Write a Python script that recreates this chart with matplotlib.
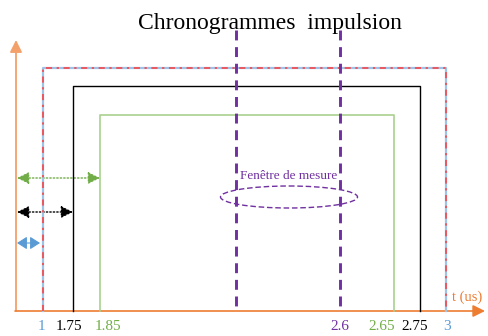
import matplotlib
matplotlib.use("Agg")
import matplotlib.pyplot as plt
from matplotlib.patches import Ellipse, FancyArrowPatch

plt.rcParams['font.family'] = ['Liberation Serif', 'DejaVu Serif']

# schematic (non-linear) time axis: drawing position of each labelled instant
tick_labels = ['1', '1.75', '1.85', '2.6', '2.65', '2.75', '3']
tick_pos = [43, 73, 100, 340, 394, 420, 446]
tick_label_x = [41, 69, 108, 340, 382, 415, 447]
tick_colors = ['#5B9BD5', 'black', '#70AD47', '#7030A0', '#70AD47', 'black', '#5B9BD5']

# pulses: start, end, level (drawing units)
pulse_start = [43, 73, 100]
pulse_end = [446, 420, 394]
pulse_level = [68, 86, 115]
pulse_colors = ['#9DC3E6', 'black', '#A9D18E']
pulse_lw = [1.6, 1.0, 1.2]

# measurement window
window_pos = [236, 340]

# rise-time arrows: y level, end position
arrow_y = [178, 212, 243]
arrow_end = [100, 73, 43]
arrow_colors = ['#70AD47', 'black', '#5B9BD5']

axis_y = 311
axis_x = 16

fig = plt.figure(figsize=(4.88, 3.36), dpi=100)
ax = fig.add_axes([0, 0, 1, 1])
ax.set_xlim(0, 488)
ax.set_ylim(336, 0)
ax.axis('off')

head = '-|>,head_length=0.6,head_width=0.3'
head2 = '<|-|>,head_length=0.6,head_width=0.3'
head3 = '<|-|>,head_length=0.5,head_width=0.32'

# axes
ax.add_patch(FancyArrowPatch((axis_x, axis_y), (axis_x, 40), arrowstyle=head,
                             color='#F4A06A', lw=1.3, mutation_scale=12, shrinkA=0, shrinkB=0))
ax.add_patch(FancyArrowPatch((axis_x - 1, axis_y), (485, axis_y), arrowstyle=head,
                             color='#ED7D31', lw=1.2, mutation_scale=12, shrinkA=0, shrinkB=0))
ax.text(452, 297, 't (us)', color='#ED7D31', fontsize=10.5, ha='left', va='center')

# pulses
for s, e, lv, c, w in zip(pulse_start, pulse_end, pulse_level, pulse_colors, pulse_lw):
    ax.plot([s, s, e, e], [axis_y, lv, lv, axis_y], color=c, lw=w)
s, e, lv = pulse_start[0], pulse_end[0], pulse_level[0]
ax.plot([s, s, e, e], [axis_y, lv, lv, axis_y], color='#FF3B3B', lw=1.1,
        linestyle=(0, (4, 3, 1.5, 3)))

# window lines
for x in window_pos:
    ax.plot([x, x], [30, axis_y], color='#7030A0', lw=2.1, linestyle=(0, (3.4, 2.3)))
ax.add_patch(Ellipse((289, 197), 137, 22, fill=False, edgecolor='#7030A0',
                     lw=1.0, linestyle=(0, (4, 2))))
ax.text(289, 176, 'Fenêtre de mesure', color='#7030A0', fontsize=9.5,
        ha='center', va='center')

# rise-time arrows
for y, xe, c in zip(arrow_y, arrow_end, arrow_colors):
    if c == '#5B9BD5':
        ax.add_patch(FancyArrowPatch((axis_x + 1, y), (xe - 3, y), arrowstyle=head3,
                                     color=c, lw=0.8, mutation_scale=12, shrinkA=0, shrinkB=0))
    else:
        ax.add_patch(FancyArrowPatch((axis_x + 1, y), (xe, y), arrowstyle=head2,
                                     color=c, lw=1.0, linestyle=(0, (1, 1.5)),
                                     mutation_scale=12, shrinkA=0, shrinkB=0))

# tick labels
for lab, x, c in zip(tick_labels, tick_label_x, tick_colors):
    ax.text(x, 327, lab, color=c, fontsize=11, ha='center', va='center')

ax.text(270, 23, 'Chronogrammes  impulsion', fontsize=17, ha='center', va='center')

fig.savefig('out.png', dpi=100)
